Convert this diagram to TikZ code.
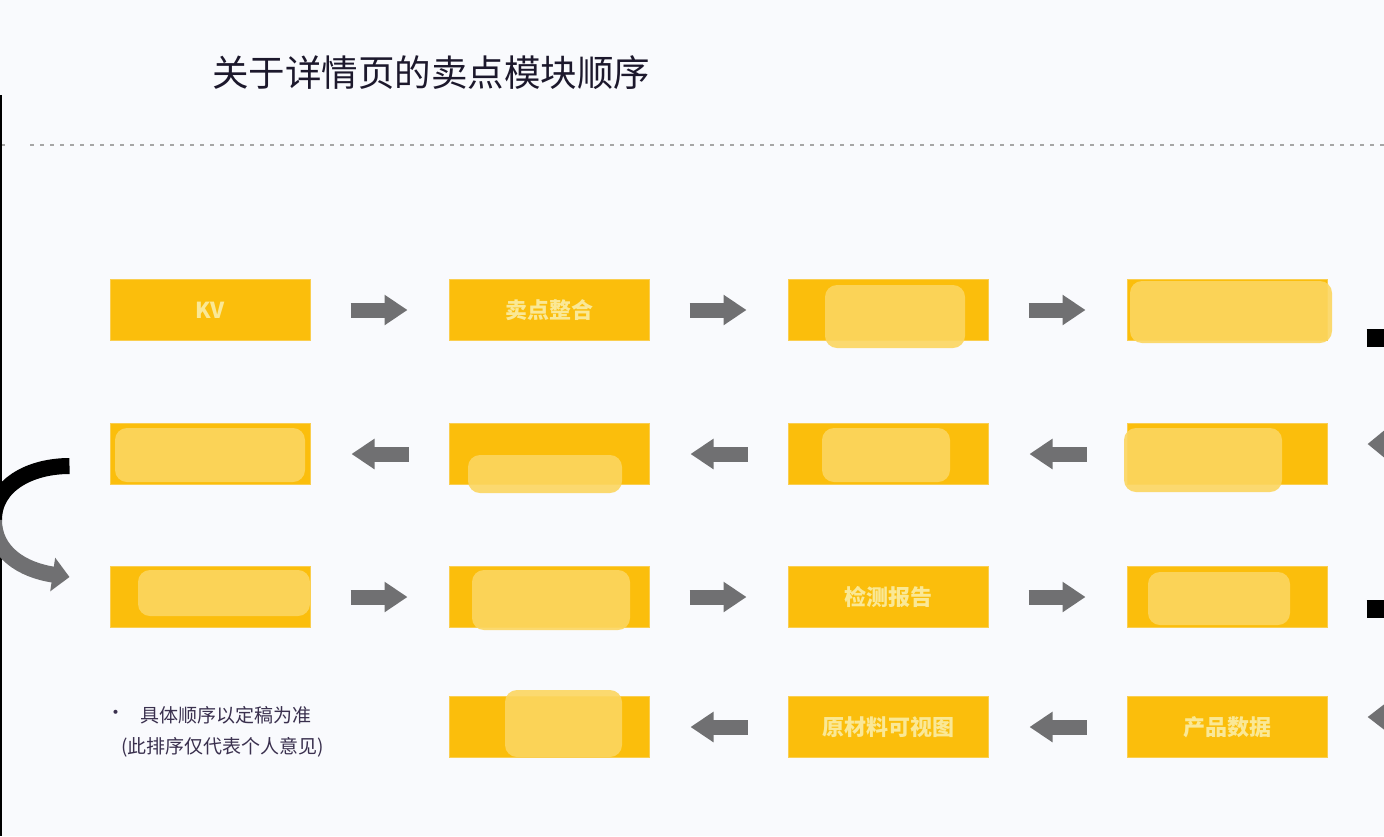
\documentclass[tikz,border=0pt]{standalone}
\usepackage{fontspec}
\usepackage{xcolor}
\usepackage{tikz}
\newfontfamily\cjk{Noto Sans CJK SC}
\usetikzlibrary{calc, positioning, arrows.meta}

\definecolor{pagewhite}{RGB}{249,250,253}
\definecolor{cardyellow}{RGB}{251,190,12}
\definecolor{cardedge}{RGB}{250,206,80}
\definecolor{blobyellow}{RGB}{252,214,96}
\definecolor{cardtext}{RGB}{250,232,150}
\definecolor{flowgray}{RGB}{112,112,114}
\definecolor{titleink}{RGB}{28,24,44}
\definecolor{noteink}{RGB}{58,48,78}

\begin{document}
\begin{tikzpicture}[x=1pt,y=-1pt,
    card node/.style={rectangle,fill=cardyellow,draw=cardedge,line width=1pt,
                      minimum width=200pt,minimum height=61pt,inner sep=0pt},
    card label/.style={inner sep=0pt,text=cardtext,font=\cjk\bfseries\fontsize{22}{24}\selectfont},
    flow/.style={draw=flowgray,line width=15pt,-{Triangle[width=29pt,length=23pt]},
                 shorten <=40pt,shorten >=41pt},
    turn/.style={line width=16pt},
    blob/.style={fill=blobyellow,fill opacity=0.9,rounded corners=12pt},
    title node/.style={inner sep=0pt,text=titleink,font=\cjk\fontsize{36.5}{40}\selectfont},
    note node/.style={inner sep=0pt,text=noteink,font=\cjk\fontsize{19}{22}\selectfont}]

 \useasboundingbox (0,0) rectangle (1384,836);
 \clip (0,0) rectangle (1384,836);
 \fill[pagewhite] (0,0) rectangle (1384,836);

 % header
 \node[title node,anchor=west] (Title) at (212,73) {关于详情页的卖点模块顺序};
 \draw[gray!70,line width=1.2pt,dash pattern=on 4pt off 6pt] (30,145) -- (1384,145);
 \draw[gray!70,line width=1.2pt] (0,145) -- (5,145);
 \draw[black,line width=2.5pt] (1,95) -- (1,836);

 % cards
 \foreach \x/\px in {0/210,1/549,2/888,3/1227}
    \foreach \y/\py in {0/310,1/454,2/597}
       \node[card node] (\x\y) at (\px,\py) {};
 \foreach \x/\px in {1/549,2/888,3/1227}
    \node[card node] (\x3) at (\px,727) {};

 % blurred labels
 \foreach \ax/\ay/\bx/\by in {825/285/965/348, 1130/281/1332/343,
                              115/428/305/482, 468/455/622/493,
                              822/428/950/482, 1124/428/1282/492,
                              138/570/310/616, 472/570/630/630,
                              1148/572/1290/625, 505/690/622/757}
    \fill[blob] (\ax,\ay) rectangle (\bx,\by);

 \node[card label] (KVLabel) at (00) {KV};
 \node[card label] (MergeLabel) at (10) {卖点整合};
 \node[card label] (ReportLabel) at (22) {检测报告};
 \node[card label] (SourceLabel) at (23) {原材料可视图};
 \node[card label] (DataLabel) at (33) {产品数据};

 % arrows
 \foreach \x in {0,...,2}
  { \pgfmathtruncatemacro{\v}{\x+1}
    \draw[flow] (\x0) -- (\v0);
    \draw[flow] (\v1) -- (\x1);
    \draw[flow] (\x2) -- (\v2);}
 \draw[flow] (33) -- (23);
 \draw[flow] (23) -- (13);

 % turns at the page edges
 \coordinate (TurnTop) at ($(01.west)+(-40,12)$);
 \coordinate (TurnLow) at ($(02.west)+(-40,-20)$);
 \draw[turn,black] (TurnTop) .. controls (30,466) and (-6,485) .. (-6,520);
 \draw[turn,flowgray,-{Triangle[width=33pt,length=17pt]}] (-6,520) .. controls (-6,552) and (22,570) .. (TurnLow);

 \coordinate (EdgeA) at ($(30.east)+(39,28)$);
 \coordinate (EdgeB) at ($(31.east)+(40,-10)$);
 \coordinate (EdgeC) at ($(32.east)+(39,12)$);
 \coordinate (EdgeD) at ($(33.east)+(40,-10)$);
 \draw[turn,black,line width=18pt] (EdgeA) -- ++(30,0);
 \draw[turn,flowgray,-{Triangle[width=47pt,length=30pt]}] ($(EdgeB)+(60,0)$) -- (EdgeB);
 \draw[turn,black,line width=18pt] (EdgeC) -- ++(30,0);
 \draw[turn,flowgray,-{Triangle[width=44pt,length=30pt]}] ($(EdgeD)+(60,0)$) -- (EdgeD);

 % note
 \node[note node] (NoteDot) at (116,715) {·};
 \node[note node,anchor=west] (NoteA) at (140,715) {具体顺序以定稿为准};
 \node[note node,anchor=west] (NoteB) at (121,747) {(此排序仅代表个人意见)};

\end{tikzpicture}
\end{document}
